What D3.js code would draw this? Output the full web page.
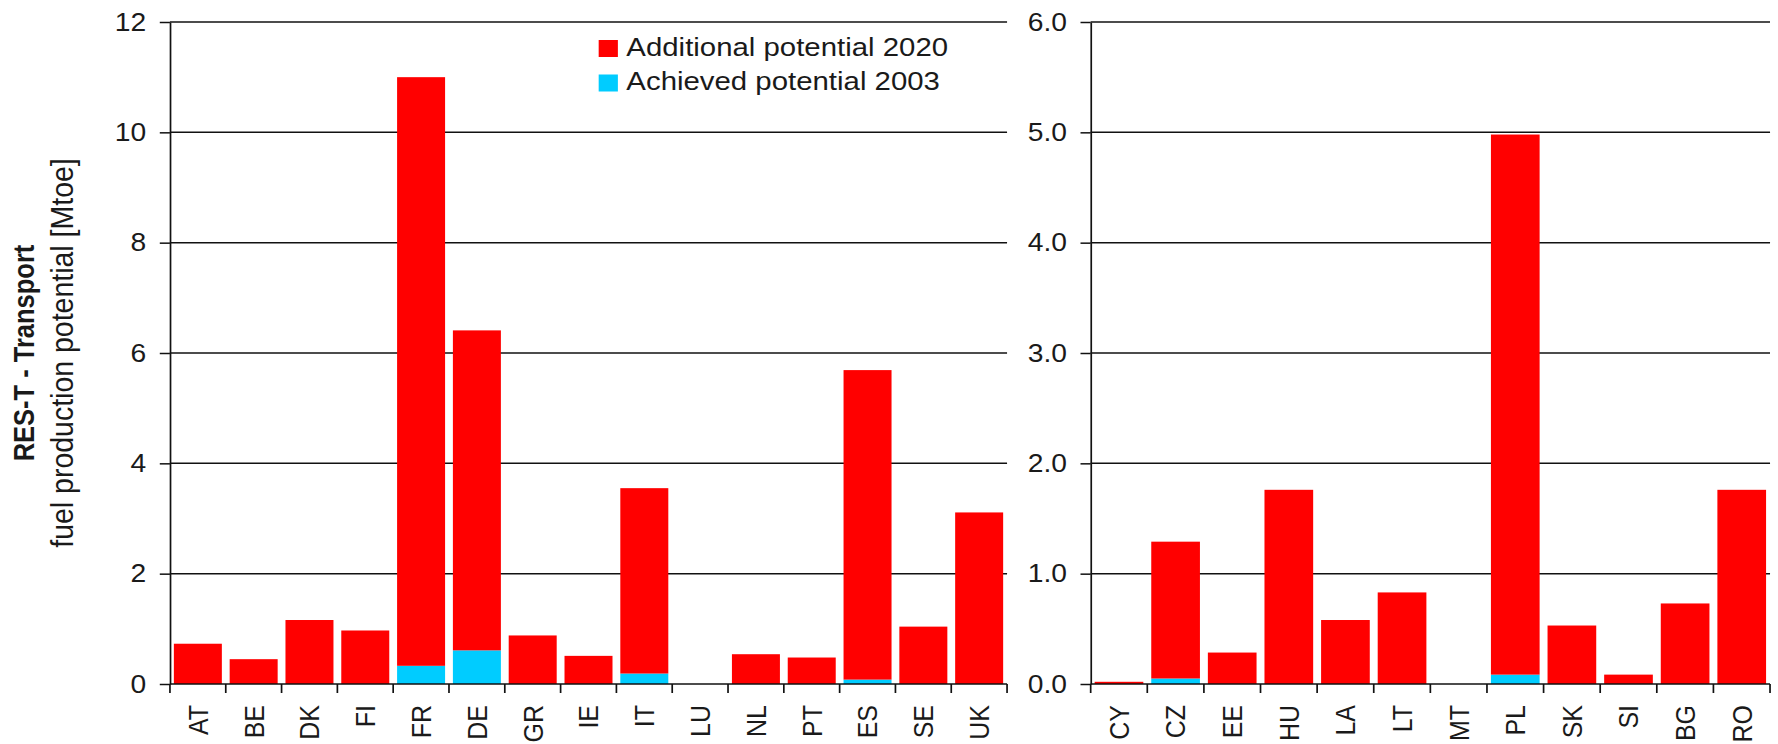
<!DOCTYPE html>
<html>
<head>
<meta charset="utf-8">
<script src="https://cdn.jsdelivr.net/npm/d3@7"></script>
<style>
  html, body { margin: 0; padding: 0; background: #fff; overflow: hidden; }
  svg { display: block; }
  text { font-family: "Liberation Sans", Arial, Helvetica, sans-serif; fill: #1a1a1a; }
</style>
</head>
<body>
<svg id="chart"></svg>
<script>
// EU-15 member states
const euCountries = ["AT", "BE", "DK", "FI", "FR", "DE", "GR", "IE", "IT", "LU", "NL", "PT", "ES", "SE", "UK"];
const euAchieved2003 = [0, 0, 0, 0, 0.33, 0.61, 0, 0, 0.19, 0, 0, 0, 0.08, 0, 0];
const euAdditional2020 = [0.73, 0.45, 1.16, 0.97, 10.67, 5.80, 0.88, 0.51, 3.36, 0, 0.54, 0.48, 5.61, 1.04, 3.11];

// New member states and accession countries
const nmsCountries = ["CY", "CZ", "EE", "HU", "LA", "LT", "MT", "PL", "SK", "SI", "BG", "RO"];
const nmsAchieved2003 = [0, 0.05, 0, 0, 0, 0, 0, 0.085, 0, 0, 0, 0];
const nmsAdditional2020 = [0.02, 1.24, 0.285, 1.76, 0.58, 0.83, 0, 4.895, 0.53, 0.085, 0.73, 1.76];

// Axis ticks (Mtoe)
const euTicks = [0, 2, 4, 6, 8, 10, 12];
const nmsTicks = [0, 1, 2, 3, 4, 5, 6];

const legendLabels = ["Additional potential 2020", "Achieved potential 2003"];
const colorAdditional = "#ff0000";
const colorAchieved = "#00ccff";

// Canvas: drawn in a narrower coordinate space, stretched horizontally to the page width
const W = 1778, H = 744, SX = 1.13, VW = W / SX;
const yTop = 22, yBase = 684;

const svg = d3.select("#chart")
  .attr("width", W).attr("height", H)
  .attr("viewBox", `0 0 ${VW} ${H}`)
  .attr("preserveAspectRatio", "none");

function drawPanel(cfg) {
  const g = svg.append("g");
  const x = d3.scaleBand().domain(cfg.countries)
    .range([cfg.x0, cfg.x1]).paddingInner(0.14).paddingOuter(0.07);
  const y = d3.scaleLinear().domain([0, d3.max(cfg.ticks)]).range([yBase, yTop]);

  // horizontal gridlines
  g.append("g").selectAll("line")
    .data(cfg.ticks.filter(t => t > 0))
    .join("line")
    .attr("x1", cfg.x0).attr("x2", cfg.x1)
    .attr("y1", d => y(d)).attr("y2", d => y(d))
    .attr("stroke", "#111").attr("stroke-width", 1.5);

  // stacked bars: achieved at the bottom, additional on top
  const rows = cfg.countries.map((c, i) => ({ country: c, achieved: cfg.achieved[i], additional: cfg.additional[i] }));
  const stacked = d3.stack().keys(["achieved", "additional"])(rows);
  const colors = { achieved: colorAchieved, additional: colorAdditional };
  g.append("g").selectAll("g")
    .data(stacked)
    .join("g")
    .attr("fill", d => colors[d.key])
    .selectAll("rect")
    .data(d => d.filter(p => p[1] - p[0] > 0))
    .join("rect")
    .attr("x", d => x(d.data.country))
    .attr("width", x.bandwidth())
    .attr("y", d => y(d[1]))
    .attr("height", d => y(d[0]) - y(d[1]));

  // y axis
  const yAxis = d3.axisLeft(y).tickValues(cfg.ticks).tickSize(9).tickSizeOuter(0)
    .tickPadding(12).tickFormat(cfg.format);
  const ya = g.append("g").attr("transform", `translate(${cfg.x0},0)`).call(yAxis);
  ya.select(".domain").attr("stroke", "#111").attr("stroke-width", 1.5);
  ya.selectAll(".tick line").attr("stroke", "#111").attr("stroke-width", 1.5);
  ya.selectAll(".tick text").attr("font-size", 25).attr("fill", "#1a1a1a")
    .style("font-family", '"Liberation Sans", Arial, sans-serif');

  // x axis: baseline, slot boundary ticks and rotated category labels
  g.append("line")
    .attr("x1", cfg.x0).attr("x2", cfg.x1)
    .attr("y1", yBase).attr("y2", yBase)
    .attr("stroke", "#111").attr("stroke-width", 1.5);
  const half = x.step() * x.paddingInner() / 2;
  const bounds = cfg.countries.map(c => x(c) - half).concat([cfg.x1]);
  g.append("g").selectAll("line")
    .data(bounds)
    .join("line")
    .attr("x1", d => d).attr("x2", d => d)
    .attr("y1", yBase).attr("y2", yBase + 9)
    .attr("stroke", "#111").attr("stroke-width", 1.5);
  g.append("g").selectAll("text")
    .data(cfg.countries)
    .join("text")
    .attr("transform", c => `translate(${x(c) + x.bandwidth() / 2},${yBase + 21}) rotate(-90)`)
    .attr("dy", "0.35em")
    .attr("text-anchor", "end")
    .attr("font-size", 25)
    .text(c => c);
}

drawPanel({
  countries: euCountries, achieved: euAchieved2003, additional: euAdditional2020,
  ticks: euTicks, format: d3.format("d"), x0: 150.4, x1: 891.2
});
drawPanel({
  countries: nmsCountries, achieved: nmsAchieved2003, additional: nmsAdditional2020,
  ticks: nmsTicks, format: d3.format(".1f"), x0: 965.2, x1: 1566.4
});

// y axis title (two lines)
const yMid = (yTop + yBase) / 2;
svg.append("text")
  .attr("transform", `translate(30.5,${yMid}) rotate(-90)`)
  .attr("text-anchor", "middle")
  .attr("font-size", 25.5).attr("font-weight", "bold")
  .text("RES-T - Transport");
svg.append("text")
  .attr("transform", `translate(64.5,${yMid}) rotate(-90)`)
  .attr("text-anchor", "middle")
  .attr("font-size", 28.5)
  .text("fuel production potential [Mtoe]");

// legend
const legend = svg.append("g").attr("transform", "translate(529.8,40)");
const legendColors = [colorAdditional, colorAchieved];
legendLabels.forEach((label, i) => {
  const row = legend.append("g").attr("transform", `translate(0,${i * 34.5})`);
  row.append("rect").attr("width", 17).attr("height", 17).attr("fill", legendColors[i]);
  row.append("text").attr("x", 24.5).attr("y", 15.5).attr("font-size", 26).text(label);
});
</script>
</body>
</html>
